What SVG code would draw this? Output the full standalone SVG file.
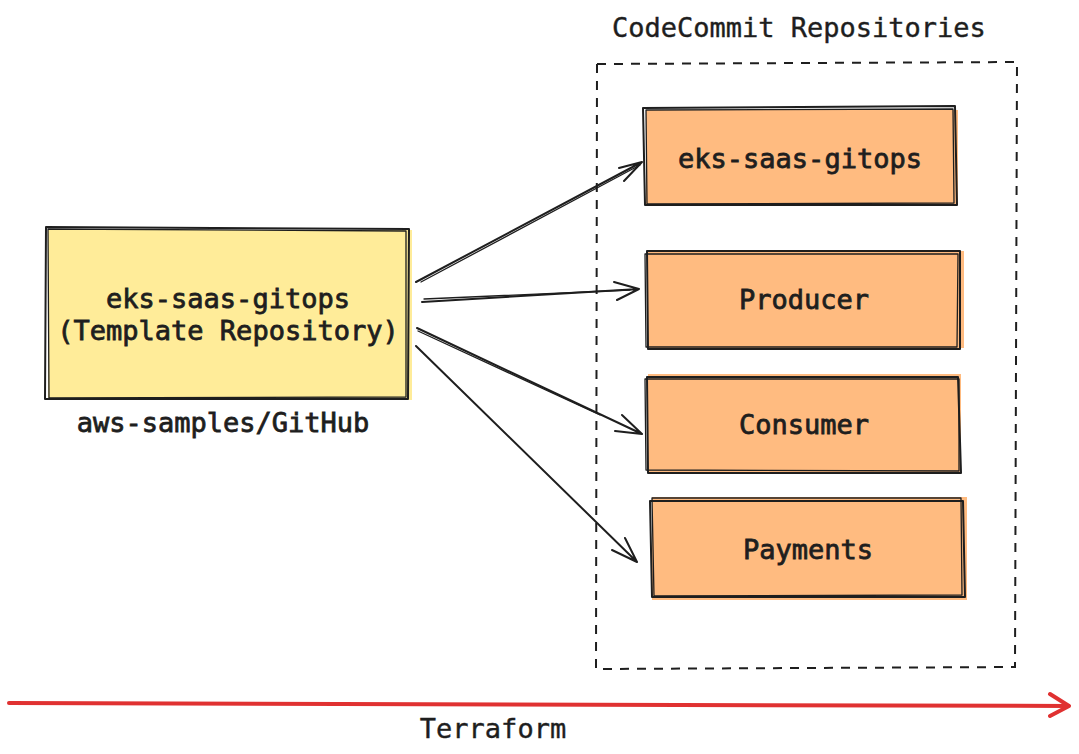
<svg xmlns="http://www.w3.org/2000/svg" width="1079" height="754" viewBox="0 0 1079 754">
<style>
text{font-family:"DejaVu Sans Mono","Liberation Mono",monospace;font-size:27px;fill:#1e1e1e;stroke:#1e1e1e;stroke-width:0.4}
.lbl{text-anchor:middle;stroke-width:0.8}
.sk{fill:none;stroke:#1e1e1e;stroke-width:2;stroke-linecap:round;stroke-linejoin:round}
.sk2{fill:none;stroke:#1e1e1e;stroke-width:1.3;stroke-linecap:round;stroke-linejoin:round}
.con{fill:none;stroke:#1e1e1e;stroke-width:2;stroke-linecap:round;stroke-linejoin:round}
.dash{fill:none;stroke:#1e1e1e;stroke-width:2;stroke-dasharray:9 8}
.yel{fill:#ffec99}
.org{fill:#ffbb80}
</style>
<rect width="1079" height="754" fill="#ffffff"/>

<g id="template-repo">
<rect class="yel" x="48" y="230" width="364" height="170"/>
<path class="sk" d="M46 227 L409 229 L408 399 L45 399 Z"/>
<path class="sk2" d="M48 229 L406 231 L406 397 L49 398 Z"/>
<text class="lbl" x="228" y="308">eks-saas-gitops</text>
<text class="lbl" x="228" y="340">(Template Repository)</text>
</g>
<g id="github-label">
<text class="lbl" x="223" y="432">aws-samples/GitHub</text>
</g>

<g id="codecommit-group">
<text x="612" y="37">CodeCommit Repositories</text>
<path class="dash" d="M597 64 L1017 62 L1015 667 L596 669 Z"/>
</g>

<g id="repo-gitops">
<rect class="org" x="646" y="110" width="312" height="95"/>
<path class="sk" d="M643 108 L955 106 L957 205 L645 205 Z"/>
<path class="sk2" d="M646 110 L953 109 L954 203 L647 204 Z"/>
<text class="lbl" x="800" y="168">eks-saas-gitops</text>
</g>
<g id="repo-producer">
<rect class="org" x="648" y="251" width="316" height="97"/>
<path class="sk" d="M647 251 L960 251 L960 349 L648 349 Z"/>
<path class="sk2" d="M645 254 L958 254 L957 347 L646 347 Z"/>
<text class="lbl" x="804" y="309">Producer</text>
</g>
<g id="repo-consumer">
<rect class="org" x="648" y="374" width="313" height="98"/>
<path class="sk" d="M647 377 L958 377 L961 473 L648 473 Z"/>
<path class="sk2" d="M645 379 L959 379 L959 471 L646 470 Z"/>
<text class="lbl" x="804" y="434">Consumer</text>
</g>
<g id="repo-payments">
<rect class="org" x="652" y="497" width="315" height="103"/>
<path class="sk" d="M650 501 L963 501 L965 597 L652 597 Z"/>
<path class="sk2" d="M652 498 L961 498 L962 595 L654 596 Z"/>
<text class="lbl" x="808" y="559">Payments</text>
</g>

<g id="connectors">
<path class="con" d="M416 282 L642 162 M619 168 L642 162 L624 181"/>
<path class="sk2" d="M421 282 L640 165"/>
<path class="con" d="M422 302 L639 289 M614 282 L639 289 L617 300"/>
<path class="sk2" d="M424 299 L630 290"/>
<path class="con" d="M417 328 L642 434 M615 431 L642 434 L622 415"/>
<path class="sk2" d="M418 331 L600 415"/>
<path class="con" d="M416 346 L637 562 M612 550 L637 562 L625 538"/>
<path fill="none" stroke="#e03131" stroke-width="4" stroke-linecap="round" stroke-linejoin="round" d="M9 703 L1069 706 M1050 694 L1069 706 L1050 716"/>
</g>
<g id="terraform-label">
<text x="493" y="738" text-anchor="middle">Terraform</text>
</g>
</svg>
